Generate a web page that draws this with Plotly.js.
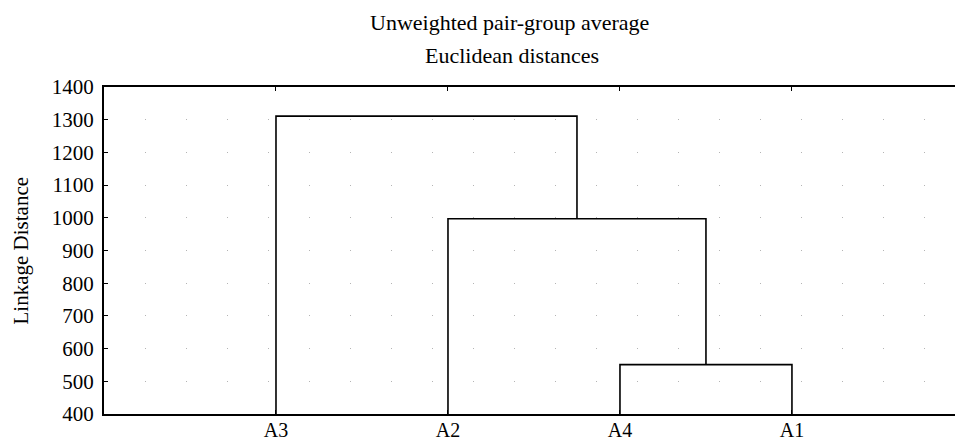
<!DOCTYPE html>
<html>
<head>
<meta charset="utf-8">
<script src="https://cdn.plot.ly/plotly-3.0.1.min.js"></script>
<style>html,body{margin:0;padding:0;background:#fff;overflow:hidden;}</style>
</head>
<body>
<div id="chart" style="width:955px;height:441px;"></div>
<script>
// Leaves in dendrogram order (x-axis tick labels)
const leaves = ['A3', 'A2', 'A4', 'A1'];
// Cluster merges (M1, M2, M3 are the clusters formed in order)
const mergeA = ['A4', 'A2', 'A3'];
const mergeB = ['A1', 'M1', 'M2'];
const mergeHeight = [551, 997, 1311];
const yTicks = [400, 500, 600, 700, 800, 900, 1000, 1100, 1200, 1300, 1400];
const titleLines = ['Unweighted pair-group average', 'Euclidean distances'];
const yTitle = 'Linkage Distance';

const base = yTicks[0];
const nodeX = {}, nodeY = {};
leaves.forEach((l, i) => { nodeX[l] = i + 1; nodeY[l] = base; });
const xs = [], ys = [];
mergeHeight.forEach((h, i) => {
  const a = mergeA[i], b = mergeB[i];
  xs.push(nodeX[a], nodeX[a], nodeX[b], nodeX[b], null);
  ys.push(nodeY[a], h, h, nodeY[b], null);
  const id = 'M' + (i + 1);
  nodeX[id] = (nodeX[a] + nodeX[b]) / 2;
  nodeY[id] = h;
});

const font = 'Liberation Serif, Times New Roman, serif';
const trace = {
  x: xs, y: ys, type: 'scatter', mode: 'lines',
  line: {color: '#000', width: 1.6}, hoverinfo: 'skip', showlegend: false
};
const layout = {
  width: 955, height: 441,
  margin: {l: 104, r: 0, t: 87, b: 27},
  paper_bgcolor: '#fff', plot_bgcolor: '#fff',
  font: {family: font, size: 21, color: '#000'},
  xaxis: {
    range: [0, 4.948], tickvals: leaves.map((l, i) => i + 1), ticktext: leaves,
    showline: true, linecolor: '#000', linewidth: 2, mirror: 'ticks',
    ticks: 'inside', ticklen: 4, tickcolor: '#000', tickwidth: 1,
    showgrid: false, zeroline: false, automargin: false,
    ticklabelstandoff: -3,
    tickfont: {family: font, size: 20, color: '#000'}
  },
  yaxis: {
    range: [400, 1400], tickvals: yTicks,
    showline: true, linecolor: '#000', linewidth: 2, mirror: false,
    ticks: 'inside', ticklen: 4, tickcolor: '#000', tickwidth: 1,
    showgrid: true, gridcolor: '#b4b4b4', gridwidth: 1, griddash: '1px,40px',
    zeroline: false, automargin: false,
    ticklabelstandoff: 4,
    tickfont: {family: font, size: 21, color: '#000'}
  },
  annotations: [
    {text: titleLines[0], xref: 'paper', yref: 'paper', x: 0.5, y: 1, yshift: 65, xshift: -20,
     showarrow: false, font: {family: font, size: 22, color: '#000'}, xanchor: 'center', yanchor: 'middle'},
    {text: titleLines[1], xref: 'paper', yref: 'paper', x: 0.5, y: 1, yshift: 32, xshift: -18,
     showarrow: false, font: {family: font, size: 22, color: '#000'}, xanchor: 'center', yanchor: 'middle'},
    {text: yTitle, xref: 'paper', yref: 'paper', x: 0, y: 0.5, xshift: -84, textangle: -90,
     showarrow: false, font: {family: font, size: 21, color: '#000'}, xanchor: 'center', yanchor: 'middle'}
  ]
};
Plotly.newPlot('chart', [trace], layout, {displayModeBar: false, staticPlot: true});
</script>
</body>
</html>
